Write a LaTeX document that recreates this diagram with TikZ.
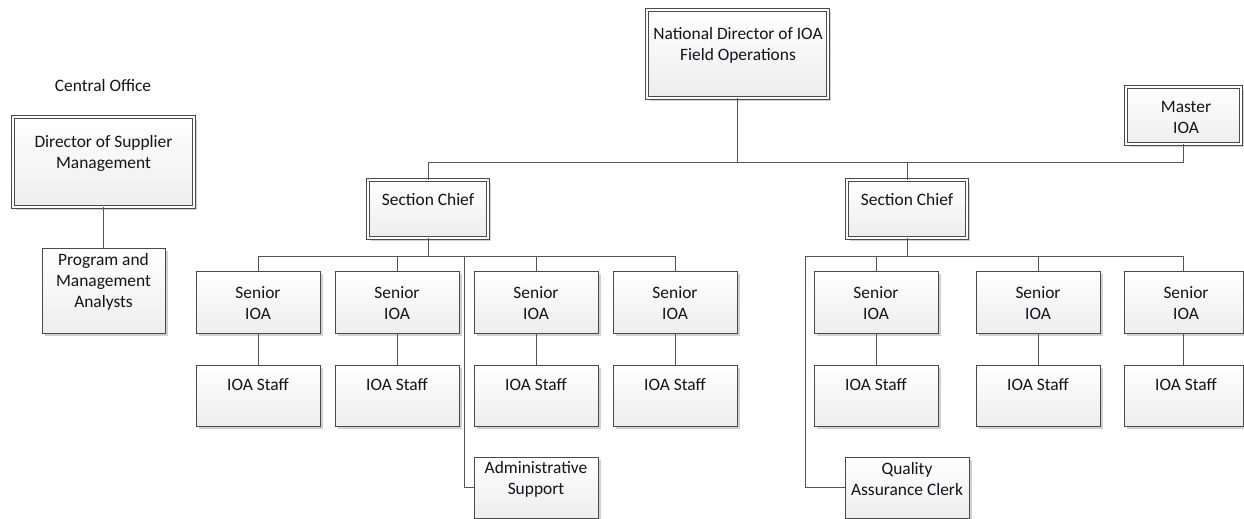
\documentclass[tikz,border=0pt]{standalone}
\usepackage{fontspec}
\setmainfont{Carlito}
\usetikzlibrary{shadows}
\definecolor{edgec}{HTML}{4A4A4A}
\definecolor{wirec}{HTML}{555555}
\definecolor{txtc}{HTML}{141418}
\tikzset{
  box/.style={draw=edgec, line width=0.9pt, top color=white, bottom color=black!7,
    minimum width=124pt, minimum height=62pt, inner sep=0pt, outer sep=0pt,
    drop shadow={shadow xshift=2.5pt, shadow yshift=-2.5pt, fill=black!18, opacity=1}},
  dbox/.style={box, double=white, double distance=1.6pt, line width=0.8pt},
  lbl/.style={font=\fontsize{17.4}{21}\selectfont, text=txtc, align=center, inner sep=0pt, yshift=-1.5pt},
  wire/.style={draw=wirec, line width=1pt},
}
\begin{document}
\begin{tikzpicture}[x=1pt,y=-1pt]
\useasboundingbox (0,0) rectangle (1244,519);
% top level
\node[dbox, minimum width=181pt, minimum height=88pt] (nd) at (737.5,54) {};
\node[dbox, minimum width=181pt, minimum height=90pt] (dsm) at (103.5,162) {};
\node[box, minimum width=123pt, minimum height=85pt] (pma) at (103.5,290.5) {};
\node[dbox, minimum width=115pt, minimum height=57pt] (master) at (1183.5,115.5) {};
\node[dbox, minimum width=120pt, minimum height=58pt] (sc1) at (428,209) {};
\node[dbox, minimum width=120pt, minimum height=58pt] (sc2) at (907,209) {};
% left group
\node[box] (s1) at (258,302) {};
\node[box] (s2) at (397,302) {};
\node[box] (s3) at (536,302) {};
\node[box] (s4) at (675,302) {};
\node[box, minimum height=61pt] (f1) at (258,395.5) {};
\node[box, minimum height=61pt] (f2) at (397,395.5) {};
\node[box, minimum height=61pt] (f3) at (536,395.5) {};
\node[box, minimum height=61pt] (f4) at (675,395.5) {};
\node[box, minimum height=61pt] (admin) at (536,487.5) {};
% right group
\node[box] (r1) at (876,302) {};
\node[box] (r2) at (1038,302) {};
\node[box, minimum width=119pt] (r3) at (1183.5,302) {};
\node[box, minimum height=61pt] (g1) at (876,395.5) {};
\node[box, minimum height=61pt] (g2) at (1038,395.5) {};
\node[box, minimum width=119pt, minimum height=61pt] (g3) at (1183.5,395.5) {};
\node[box, minimum height=61pt] (qac) at (907,487.5) {};
% texts
\node[lbl] (co) at (103,84) {Central Office};
\node[lbl] (ndt) at (738,43.5) {National Director of IOA\\Field Operations};
\node[lbl] (dsmt) at (103.5,151.5) {Director of Supplier\\Management};
\node[lbl] (pmat) at (103.5,280) {Program and\\Management\\Analysts};
\node[lbl] (mastert) at (1186,115.5) {Master\\IOA};
\node[lbl] (sc1t) at (428,198) {Section Chief};
\node[lbl] (sc2t) at (907,198) {Section Chief};
\foreach \n/\x in {1/258,2/397,3/536,4/675}{
  \node[lbl] (s\n t) at (\x,301.5) {Senior\\IOA};
  \node[lbl] (f\n t) at (\x,383) {IOA Staff};
}
\foreach \n/\x in {1/876,2/1038,3/1186}{
  \node[lbl] (r\n t) at (\x,301.5) {Senior\\IOA};
  \node[lbl] (g\n t) at (\x,383) {IOA Staff};
}
\node[lbl] (admint) at (536,477.5) {Administrative\\Support};
\node[lbl] (qact) at (907,477.5) {Quality\\Assurance Clerk};
% connectors
\coordinate (b1) at (0,162);
\coordinate (b2) at (0,256);
\coordinate (ja) at (464,256);
\coordinate (jq) at (805,256);
\draw[wire] (nd.south) -- (nd.south |- b1);
\draw[wire] (sc1.north) -- (sc1.north |- b1) -| (master.south);
\draw[wire] (sc2.north) -- (sc2.north |- b1);
\draw[wire] (dsm.south) -- (pma.north);
\draw[wire] (sc1.south) -- (sc1.south |- b2);
\draw[wire] (s1.north) -- (s1.north |- b2) -| (s4.north);
\draw[wire] (s2.north) -- (s2.north |- b2);
\draw[wire] (s3.north) -- (s3.north |- b2);
\draw[wire] (ja) |- (admin.west);
\draw[wire] (sc2.south) -- (sc2.south |- b2);
\draw[wire] (qac.west) -| (jq) -| (r3.north);
\draw[wire] (r1.north) -- (r1.north |- b2);
\draw[wire] (r2.north) -- (r2.north |- b2);
\foreach \n in {1,2,3,4}{\draw[wire] (s\n.south) -- (f\n.north);}
\foreach \n in {1,2,3}{\draw[wire] (r\n.south) -- (g\n.north);}
\end{tikzpicture}
\end{document}
